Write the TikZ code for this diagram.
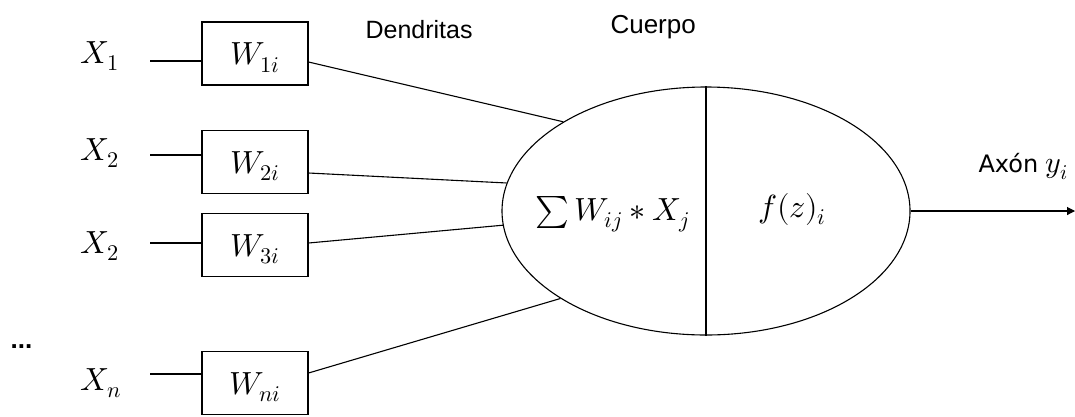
\documentclass[tikz,border=0pt]{standalone}
\usepackage{fontspec}
\usepackage{unicode-math}
\setmathfont{Latin Modern Math}
\newfontfamily\arialf{Liberation Sans}
\newfontfamily\verdf{DejaVu Sans}
\usetikzlibrary{shapes.geometric,arrows.meta}
\begin{document}
\begin{tikzpicture}[x=1pt,y=-1pt,line width=1.1pt,
  mathlab/.style={inner sep=0pt,anchor=base west,font=\fontsize{32}{36}\selectfont},
  wbox/.style={draw,minimum width=106pt,minimum height=63pt,inner sep=0pt,
    text height=22pt,text depth=0pt,font=\fontsize{32}{36}\selectfont},
  arialtext/.style={inner sep=0pt,anchor=base west,font=\arialf\fontsize{25}{30}\selectfont},
  body/.style={draw,ellipse,minimum width=408pt,minimum height=248pt,inner sep=0pt}]
\clip (0,0) rectangle (1075,416);
\fill[white] (0,0) rectangle (1075,416);
% inputs
\node[mathlab] (x1) at (80,63) {$X_1$};
\node[mathlab] (x2) at (80,160) {$X_2$};
\node[mathlab] (x3) at (80,253) {$X_2$};
\node[mathlab] (xn) at (80,390) {$X_n$};
\node[inner sep=0pt,anchor=base west,font=\arialf\bfseries\fontsize{26}{30}\selectfont] (dots) at (10,348) {...};
% weight boxes
\node[wbox] (b1) at (255,53.5) {$W_{1i}$};
\node[wbox] (b2) at (255,162) {$W_{2i}$};
\node[wbox] (b3) at (255,245) {$W_{3i}$};
\node[wbox] (bn) at (255,383) {$W_{ni}$};
% body
\node[body] (cell) at (706,211) {};
\draw (cell.north) -- (cell.south);
\node[mathlab] (sum) at (535,220) {$\textstyle\sum W_{ij} * X_j$};
\node[mathlab] (act) at (758,217) {$f(z)_i$};
% labels
\node[arialtext] (dend) at (365,38) {Dendritas};
\node[arialtext,font=\arialf\fontsize{26}{30}\selectfont] (cuer) at (610,33) {Cuerpo};
\node[inner sep=0pt,anchor=base west,font=\verdf\fontsize{24}{28}\selectfont] (axon) at (978,172) {Axón {\fontsize{30}{34}\selectfont$y_i$}};
% left connectors
\coordinate (l1) at (150,61);
\coordinate (l2) at (150,155);
\coordinate (l3) at (150,243);
\coordinate (ln) at (150,374);
\draw (l1) -- (l1 -| b1.west);
\draw (l2) -- (l2 -| b2.west);
\draw (l3) -- (l3 -| b3.west);
\draw (ln) -- (ln -| bn.west);
% right connectors
\coordinate (r1) at (0,62);
\coordinate (r2) at (0,173);
\coordinate (r3) at (0,243);
\coordinate (rn) at (0,373);
\draw (b1.east |- r1) -- (cell.148);
\draw (b2.east |- r2) -- (cell.172.5);
\draw (b3.east |- r3) -- (cell.184.5);
\draw (bn.east |- rn) -- (cell.211);
% output
\coordinate (out) at (1075,211);
\draw[-{Triangle[length=8pt,width=8pt]}] (cell.east) -- (out);
\end{tikzpicture}
\end{document}
